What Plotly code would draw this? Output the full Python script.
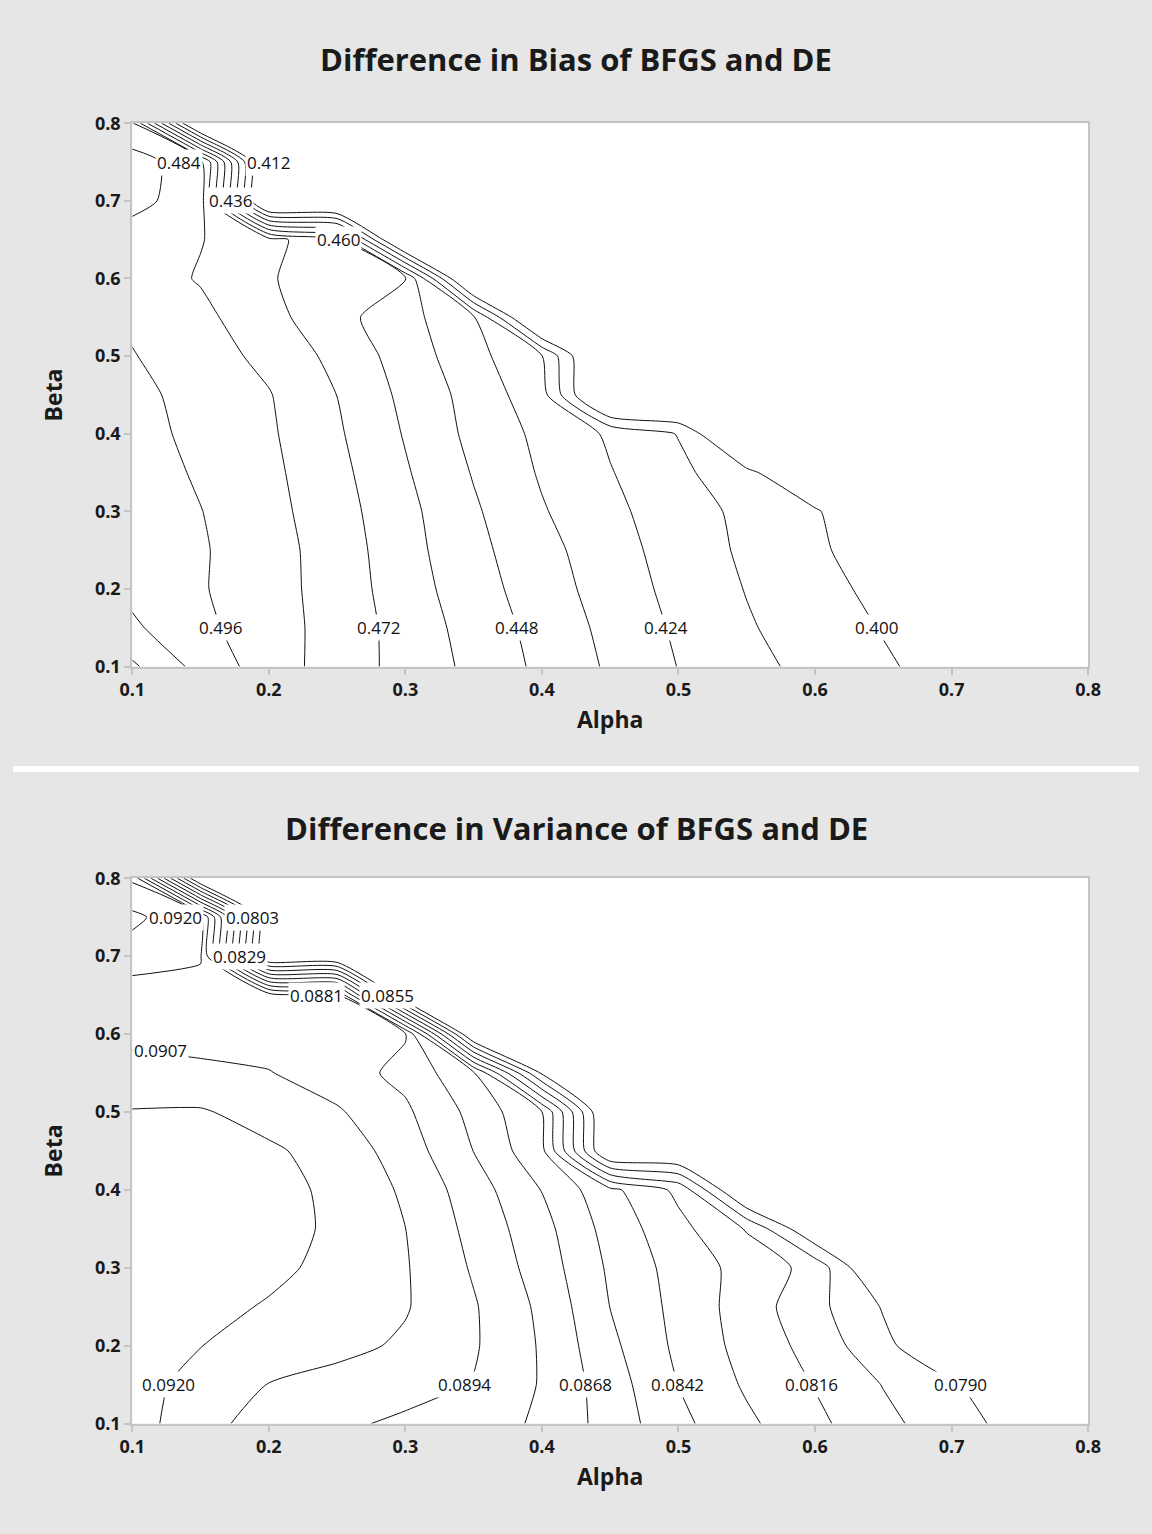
import plotly.graph_objects as go

# Grid
alpha = [0.10, 0.15, 0.20, 0.25, 0.30, 0.35, 0.40, 0.45, 0.50, 0.55, 0.60, 0.65, 0.70, 0.75, 0.80]
beta = [0.10, 0.15, 0.20, 0.25, 0.30, 0.35, 0.40, 0.45, 0.50, 0.55, 0.60, 0.65, 0.70, 0.75, 0.80]

# Difference in Bias (rows = beta, columns = alpha)
bias_b010 = [0.522, 0.504, 0.490, 0.4785, 0.468, 0.457, 0.4453, 0.4343, 0.4237, 0.4156, 0.4083, 0.4016, 0.395, 0.389, 0.383]
bias_b015 = [0.510, 0.4988, 0.4894, 0.4792, 0.4673, 0.4553, 0.4438, 0.4327, 0.4221, 0.4132, 0.4061, 0.3993, 0.393, 0.387, 0.381]
bias_b020 = [0.505, 0.497, 0.4889, 0.4787, 0.4656, 0.4531, 0.4417, 0.4306, 0.4203, 0.4115, 0.4041, 0.3967, 0.390, 0.384, 0.378]
bias_b025 = [0.505, 0.4972, 0.4888, 0.4783, 0.4643, 0.4513, 0.4399, 0.4289, 0.4188, 0.4099, 0.4019, 0.394, 0.386, 0.380, 0.375]
bias_b030 = [0.5045, 0.4963, 0.4878, 0.4769, 0.4633, 0.4496, 0.437, 0.4268, 0.4175, 0.409, 0.4015, 0.385, 0.375, 0.372, 0.370]
bias_b035 = [0.502, 0.4945, 0.4868, 0.4754, 0.4612, 0.4472, 0.4347, 0.4246, 0.415, 0.4031, 0.385, 0.370, 0.370, 0.370, 0.370]
bias_b040 = [0.5002, 0.493, 0.4857, 0.4736, 0.4591, 0.4448, 0.433, 0.4223, 0.4114, 0.375, 0.370, 0.370, 0.370, 0.370, 0.370]
bias_b045 = [0.4991, 0.4919, 0.4847, 0.4719, 0.4571, 0.4435, 0.4286, 0.370, 0.370, 0.370, 0.370, 0.370, 0.370, 0.370, 0.370]
bias_b050 = [0.4966, 0.4893, 0.4809, 0.4685, 0.4547, 0.440, 0.4245, 0.370, 0.370, 0.370, 0.370, 0.370, 0.370, 0.370, 0.370]
bias_b055 = [0.494, 0.4871, 0.4758, 0.4641, 0.4521, 0.4375, 0.370, 0.370, 0.370, 0.370, 0.370, 0.370, 0.370, 0.370, 0.370]
bias_b060 = [0.490, 0.4831, 0.4729, 0.466, 0.4605, 0.370, 0.370, 0.370, 0.370, 0.370, 0.370, 0.370, 0.370, 0.370, 0.370]
bias_b065 = [0.490, 0.4845, 0.476, 0.462, 0.370, 0.370, 0.370, 0.370, 0.370, 0.370, 0.370, 0.370, 0.370, 0.370, 0.370]
bias_b070 = [0.500, 0.489, 0.370, 0.370, 0.370, 0.370, 0.370, 0.370, 0.370, 0.370, 0.370, 0.370, 0.370, 0.370, 0.370]
bias_b075 = [0.501, 0.489, 0.370, 0.370, 0.370, 0.370, 0.370, 0.370, 0.370, 0.370, 0.370, 0.370, 0.370, 0.370, 0.370]
bias_b080 = [0.486, 0.370, 0.370, 0.370, 0.370, 0.370, 0.370, 0.370, 0.370, 0.370, 0.370, 0.370, 0.370, 0.370, 0.370]

# Difference in Variance (rows = beta, columns = alpha)
var_b010 = [0.0925, 0.09126, 0.0900, 0.0896, 0.0892, 0.0887, 0.0879, 0.08627, 0.08454, 0.08315, 0.08191, 0.08065, 0.07955, 0.07849, 0.0774]
var_b015 = [0.0924, 0.09164, 0.09066, 0.09023, 0.08981, 0.08934, 0.08799, 0.08613, 0.08418, 0.08272, 0.08153, 0.08025, 0.07914, 0.07803, 0.0769]
var_b020 = [0.0925, 0.09202, 0.09154, 0.09107, 0.09051, 0.08954, 0.08796, 0.0858, 0.08391, 0.08243, 0.08113, 0.0793, 0.0778, 0.0772, 0.0770]
var_b025 = [0.0926, 0.0924, 0.09189, 0.09134, 0.0908, 0.08952, 0.08782, 0.08548, 0.0838, 0.08229, 0.08069, 0.0789, 0.0770, 0.0770, 0.0770]
var_b030 = [0.0926, 0.0925, 0.0923, 0.09164, 0.0908, 0.08926, 0.0875, 0.08529, 0.08367, 0.08242, 0.08116, 0.0770, 0.0770, 0.0770, 0.0770]
var_b035 = [0.0926, 0.0925, 0.0923, 0.09186, 0.09071, 0.0890, 0.08724, 0.0850, 0.0833, 0.0815, 0.0776, 0.0770, 0.0770, 0.0770, 0.0770]
var_b040 = [0.0925, 0.0925, 0.0923, 0.09181, 0.09048, 0.08871, 0.08676, 0.08453, 0.08258, 0.0768, 0.0770, 0.0770, 0.0770, 0.0770, 0.0770]
var_b045 = [0.0924, 0.0924, 0.0922, 0.09149, 0.09006, 0.08808, 0.08583, 0.0770, 0.0770, 0.0770, 0.0770, 0.0770, 0.0770, 0.0770, 0.0770]
var_b050 = [0.09205, 0.09212, 0.0915, 0.09085, 0.08962, 0.08772, 0.08552, 0.0767, 0.0770, 0.0770, 0.0770, 0.0770, 0.0770, 0.0770, 0.0770]
var_b055 = [0.0914, 0.0910, 0.09076, 0.0900, 0.08904, 0.08696, 0.0788, 0.0770, 0.0770, 0.0770, 0.0770, 0.0770, 0.0770, 0.0770, 0.0770]
var_b060 = [0.0902, 0.0902, 0.0901, 0.0899, 0.0895, 0.0770, 0.0770, 0.0770, 0.0770, 0.0770, 0.0770, 0.0770, 0.0770, 0.0770, 0.0770]
var_b065 = [0.0900, 0.0903, 0.0900, 0.0895, 0.0770, 0.0770, 0.0770, 0.0770, 0.0770, 0.0770, 0.0770, 0.0770, 0.0770, 0.0770, 0.0770]
var_b070 = [0.0914, 0.0908, 0.0770, 0.0770, 0.0770, 0.0770, 0.0770, 0.0770, 0.0770, 0.0770, 0.0770, 0.0770, 0.0770, 0.0770, 0.0770]
var_b075 = [0.0923, 0.0909, 0.0770, 0.0770, 0.0770, 0.0770, 0.0770, 0.0770, 0.0770, 0.0770, 0.0770, 0.0770, 0.0770, 0.0770, 0.0770]
var_b080 = [0.0905, 0.0770, 0.0770, 0.0770, 0.0770, 0.0770, 0.0770, 0.0770, 0.0770, 0.0770, 0.0770, 0.0770, 0.0770, 0.0770, 0.0770]

# Contour levels
bias_levels = dict(start=0.400, end=0.520, size=0.012)
var_levels = dict(start=0.0790, end=0.0920, size=0.0013)

# Which levels get a label, and along which grid row / column the label sits
# (level, "row"/"col", beta or alpha of that row/col, text anchor)
bias_labels = [(0.496, "row", 0.15, "center"), (0.472, "row", 0.15, "center"),
               (0.448, "row", 0.15, "center"), (0.424, "row", 0.15, "center"),
               (0.400, "row", 0.15, "center"),
               (0.484, "row", 0.75, "right"), (0.412, "row", 0.75, "left"),
               (0.436, "row", 0.70, "center"), (0.460, "row", 0.65, "center")]
var_labels = [(0.0920, "row", 0.15, "center"), (0.0894, "row", 0.15, "center"),
              (0.0868, "row", 0.15, "center"), (0.0842, "row", 0.15, "center"),
              (0.0816, "row", 0.15, "center"), (0.0790, "row", 0.15, "center"),
              (0.0920, "row", 0.75, "left"), (0.0803, "row", 0.75, "center"),
              (0.0829, "row", 0.70, "center"), (0.0881, "row", 0.65, "right"),
              (0.0855, "row", 0.65, "left"), (0.0907, "col", 0.10, "left")]

tick_vals = [0.1, 0.2, 0.3, 0.4, 0.5, 0.6, 0.7, 0.8]
tick_text = ["0.1", "0.2", "0.3", "0.4", "0.5", "0.6", "0.7", "0.8"]

titles = ["Difference in Bias of BFGS and DE", "Difference in Variance of BFGS and DE"]

bias_z = [bias_b010, bias_b015, bias_b020, bias_b025, bias_b030, bias_b035, bias_b040, bias_b045,
          bias_b050, bias_b055, bias_b060, bias_b065, bias_b070, bias_b075, bias_b080]
var_z = [var_b010, var_b015, var_b020, var_b025, var_b030, var_b035, var_b040, var_b045,
         var_b050, var_b055, var_b060, var_b065, var_b070, var_b075, var_b080]

FONT = "Open Sans"
W, H = 1152, 1534
INK = "#111111"


def first_crossing(values, coords, level):
    """Linear interpolation of where a sequence of grid values first crosses a level."""
    for k in range(len(values) - 1):
        a, b = values[k], values[k + 1]
        if (a - level) * (b - level) <= 0 and a != b:
            return coords[k] + (level - a) / (b - a) * (coords[k + 1] - coords[k])
    return None


def label_annotations(z, specs, fmt, xref, yref):
    anns = []
    for level, kind, where, anchor in specs:
        if kind == "row":
            i = min(range(len(beta)), key=lambda r: abs(beta[r] - where))
            x = first_crossing(z[i], alpha, level)
            y = beta[i]
        else:
            j = min(range(len(alpha)), key=lambda c: abs(alpha[c] - where))
            col = [row[j] for row in z]
            y = first_crossing(col, beta, level)
            x = alpha[j]
        if x is None or y is None:
            continue
        anns.append(dict(x=x, y=y, xref=xref, yref=yref, text=fmt % level, showarrow=False,
                         xanchor=anchor, yanchor="middle", bgcolor="white", borderpad=1,
                         font=dict(family=FONT, size=17, color=INK)))
    return anns


fig = go.Figure()


def contour(z, levels, xa, ya):
    return go.Contour(
        x=alpha, y=beta, z=z, xaxis=xa, yaxis=ya,
        contours=dict(start=levels["start"], end=levels["end"], size=levels["size"],
                      coloring="none", showlabels=False),
        line=dict(color=INK, width=1, smoothing=0.6),
        showscale=False, hoverinfo="skip",
    )


fig.add_trace(contour(bias_z, bias_levels, "x", "y"))
fig.add_trace(contour(var_z, var_levels, "x2", "y2"))

x_dom = [122 / W, 1100 / W]
y1_dom = [1 - 664 / H, 1 - 112 / H]
y2_dom = [1 - 1433 / H, 1 - 879 / H]

AX_COL = "#c4c4c4"


def xaxis(anchor):
    return dict(domain=x_dom, anchor=anchor, range=[0.1, 0.8], tickvals=tick_vals, ticktext=tick_text,
                ticks="outside", ticklen=6, tickwidth=2, tickcolor=AX_COL,
                showline=True, linewidth=2, linecolor=AX_COL, mirror=True,
                showgrid=False, zeroline=False,
                tickfont=dict(family=FONT, size=18, color="#1a1a1a", weight="bold"),
                title=dict(text="Alpha", font=dict(family=FONT, size=23, color="#1a1a1a", weight="bold"),
                           standoff=12))


def yaxis(anchor, dom):
    return dict(domain=dom, anchor=anchor, range=[0.1, 0.8], tickvals=tick_vals, ticktext=tick_text,
                ticks="outside", ticklen=6, tickwidth=2, tickcolor=AX_COL,
                showline=True, linewidth=2, linecolor=AX_COL, mirror=True,
                showgrid=False, zeroline=False,
                tickfont=dict(family=FONT, size=18, color="#1a1a1a", weight="bold"),
                title=dict(text="Beta", font=dict(family=FONT, size=23, color="#1a1a1a", weight="bold"),
                           standoff=26))


annotations = [
    dict(text="<b>%s</b>" % titles[0], x=0.5, y=1 - 47 / H, xref="paper", yref="paper",
         showarrow=False, font=dict(family=FONT, size=31, color="#1a1a1a"), yanchor="middle"),
    dict(text="<b>%s</b>" % titles[1], x=0.5, y=1 - 828 / H, xref="paper", yref="paper",
         showarrow=False, font=dict(family=FONT, size=31, color="#1a1a1a"), yanchor="middle"),
]
annotations += label_annotations(bias_z, bias_labels, "%.3f", "x", "y")
annotations += label_annotations(var_z, var_labels, "%.4f", "x2", "y2")

fig.update_layout(
    width=W, height=H, margin=dict(l=0, r=0, t=0, b=0),
    paper_bgcolor="#e6e6e6", plot_bgcolor="white", showlegend=False,
    xaxis=xaxis("y"), yaxis=yaxis("x", y1_dom),
    xaxis2=xaxis("y2"), yaxis2=yaxis("x2", y2_dom),
    annotations=annotations,
    shapes=[dict(type="rect", xref="paper", yref="paper", x0=0, x1=1,
                 y0=1 - 771 / H, y1=1 - 765 / H, fillcolor="white", line=dict(width=0), layer="below")],
)

fig.write_html("out.html",
               post_script="document.documentElement.style.margin='0';"
                           "document.body.style.margin='0';document.body.style.padding='0';")
